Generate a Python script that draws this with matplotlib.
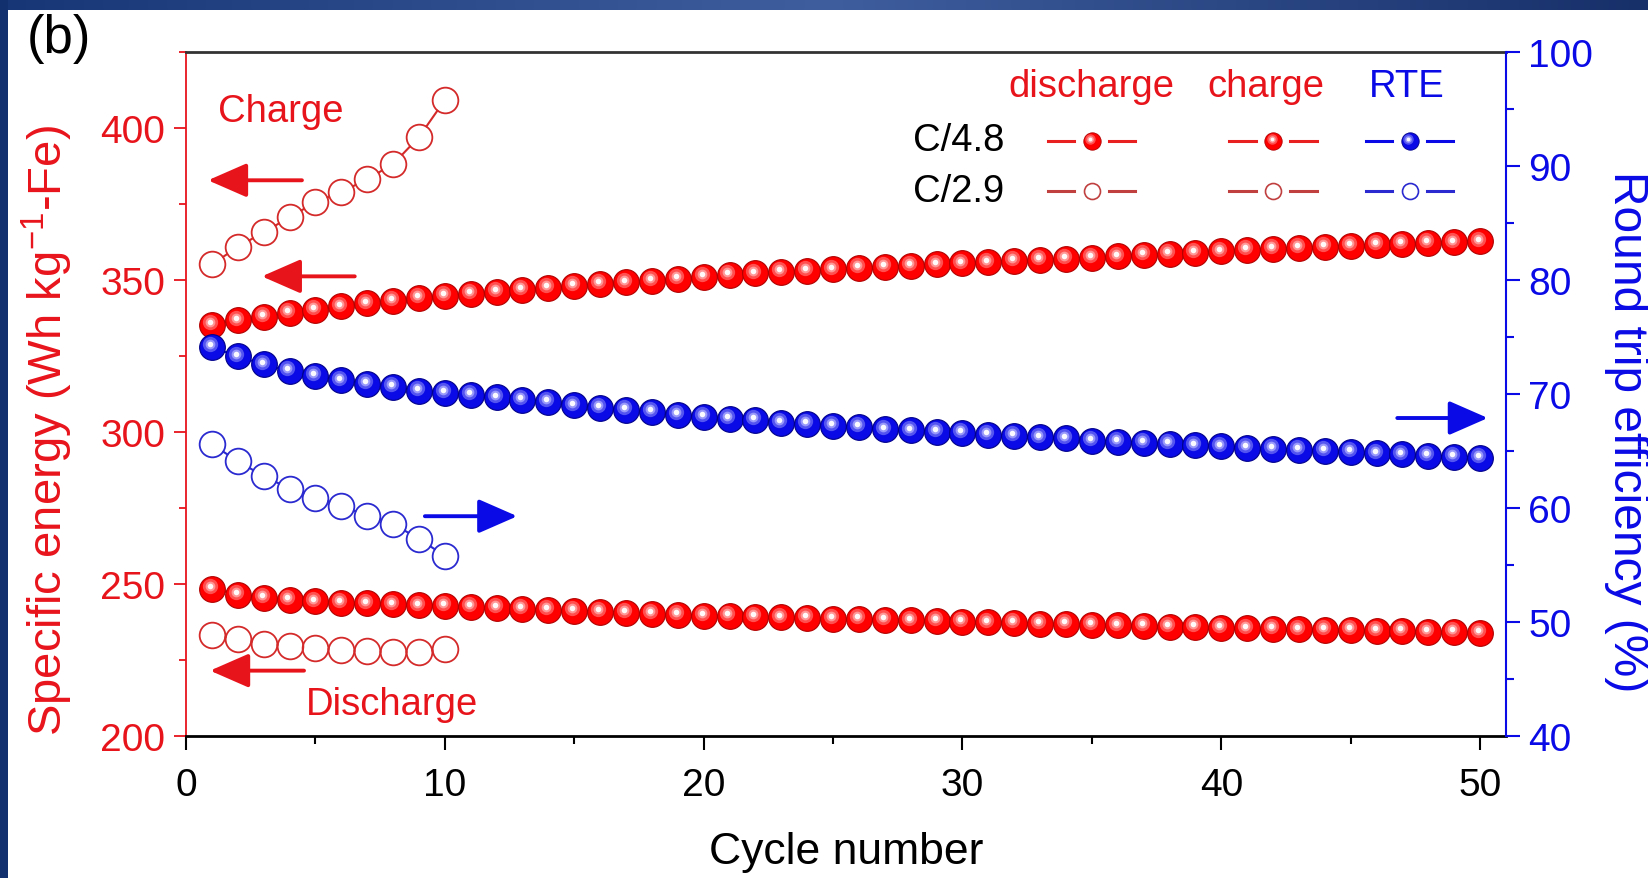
"""
Specific energy / round-trip efficiency vs cycle number, panel (b).
Left axis: charge & discharge specific energy; right axis: RTE.
"""

import numpy as np
import matplotlib
matplotlib.use('Agg')
import matplotlib.pyplot as plt
from matplotlib.transforms import ScaledTranslation
from matplotlib.colors import LinearSegmentedColormap
from matplotlib.ticker import MultipleLocator

plt.rcParams['font.family'] = ['Liberation Sans', 'DejaVu Sans']
plt.rcParams['mathtext.fontset'] = 'custom'
plt.rcParams['mathtext.rm'] = 'Liberation Sans'
plt.rcParams['mathtext.default'] = 'regular'

RED = '#e8141c'
RED_DARK = '#b00000'
RED_OPEN = '#d42a2a'
BLUE = '#0a0ae6'
BLUE_DARK = '#00008a'
BLUE_OPEN = '#2a2ad0'

# ---- data ----
cycles_slow = np.arange(1, 51)      # C/4.8
cycles_fast = np.arange(1, 11)      # C/2.9

charge_slow = [335.3, 336.7, 337.8, 339.1, 340.2, 341.3, 342.3, 343.2, 344.0, 344.8,
               345.4, 346.1, 346.8, 347.4, 348.0, 348.6, 349.2, 349.8, 350.4, 351.0,
               351.6, 352.2, 352.6, 353.1, 353.5, 353.9, 354.3, 354.7, 355.1, 355.5,
               355.8, 356.2, 356.6, 357.0, 357.4, 357.8, 358.2, 358.6, 359.0, 359.4,
               359.8, 360.2, 360.6, 360.9, 361.2, 361.5, 361.8, 362.1, 362.4, 362.7]
discharge_slow = [248.5, 246.5, 245.5, 244.7, 244.3, 243.9, 243.6, 243.3, 243.0, 242.7,
                  242.4, 242.1, 241.8, 241.5, 241.2, 240.9, 240.6, 240.2, 239.9, 239.6,
                  239.4, 239.2, 239.0, 238.8, 238.6, 238.4, 238.2, 238.0, 237.8, 237.6,
                  237.4, 237.2, 237.0, 236.8, 236.6, 236.4, 236.2, 236.0, 235.8, 235.6,
                  235.4, 235.2, 235.1, 234.9, 234.8, 234.6, 234.5, 234.3, 234.2, 234.0]
rte_slow = [74.1, 73.3, 72.6, 72.0, 71.6, 71.2, 70.9, 70.6, 70.3, 70.1,
            69.9, 69.7, 69.5, 69.3, 69.0, 68.8, 68.6, 68.4, 68.2, 68.0,
            67.8, 67.7, 67.5, 67.4, 67.2, 67.1, 66.9, 66.8, 66.7, 66.6,
            66.4, 66.3, 66.2, 66.1, 65.9, 65.8, 65.7, 65.6, 65.5, 65.4,
            65.3, 65.2, 65.1, 65.0, 64.9, 64.8, 64.7, 64.6, 64.5, 64.4]

charge_fast = [355.1, 360.9, 365.7, 370.6, 375.6, 378.9, 383.2, 388.1, 397.0, 409.2]
discharge_fast = [233.1, 232.0, 230.4, 229.6, 228.9, 228.2, 227.8, 227.6, 227.6, 228.5]
rte_fast = [65.6, 64.1, 62.8, 61.7, 60.9, 60.2, 59.3, 58.6, 57.3, 55.8]

fig = plt.figure(figsize=(16.48, 8.79), dpi=100, facecolor='white')

# dark slide frame (top band gradient + left strip)
band = fig.add_axes([0, 1 - 11 / 879, 1, 11 / 879])
cmap = LinearSegmentedColormap.from_list('band', ['#173676', '#3f5e9e', '#17306a'])
band.imshow(np.linspace(0, 1, 256)[None, :], aspect='auto', cmap=cmap)
band.axis('off')
strip = fig.add_axes([0, 0, 8 / 1648, 1])
strip.set_facecolor('#12306e')
strip.set_xticks([]); strip.set_yticks([])
for s in strip.spines.values():
    s.set_visible(False)

ax = fig.add_axes([186 / 1648, 1 - 737 / 879, 1320 / 1648, 684 / 879])
ax2 = ax.twinx()


def balls(a, x, y, color, edge, hl, ms=18.5, line=True):
    if line:
        a.plot(x, y, '-', color=color, lw=1.5, zorder=2)
    a.plot(x, y, 'o', ms=ms, mfc=color, mec=edge, mew=0.8, zorder=3)
    k = ms / 18.5
    off = a.transData + ScaledTranslation(-1.5 * k / 72, 2.0 * k / 72, fig.dpi_scale_trans)
    for s, c, al in [(11, hl, 0.45), (7, hl, 0.75), (4, 'white', 0.95)]:
        a.plot(x, y, 'o', ms=s * k, mfc=c, mec='none', alpha=al,
               transform=off, zorder=4)


def rings(a, x, y, color, ms=18.5):
    a.plot(x, y, '-', color=color, lw=1.5, zorder=2)
    a.plot(x, y, 'o', ms=ms - 1, mfc='white', mec='none', zorder=3)
    a.plot(x, y, 'o', ms=ms, mfc='none', mec=color, mew=1.3, zorder=4)


rings(ax, cycles_fast, charge_fast, RED_OPEN)
rings(ax, cycles_fast, discharge_fast, RED_OPEN)
balls(ax, cycles_slow, charge_slow, '#ff0000', RED_DARK, '#ffb0b0')
balls(ax, cycles_slow, discharge_slow, '#ff0000', RED_DARK, '#ffb0b0')
rings(ax2, cycles_fast, rte_fast, BLUE_OPEN)
balls(ax2, cycles_slow, rte_slow, BLUE, BLUE_DARK, '#b0b0ff')

# axes limits / ticks
ax.set_xlim(0, 51)
ax.set_ylim(200, 425)
ax2.set_ylim(40, 100)
ax.xaxis.set_major_locator(MultipleLocator(10))
ax.xaxis.set_minor_locator(MultipleLocator(5))
ax.yaxis.set_major_locator(MultipleLocator(50))
ax.yaxis.set_minor_locator(MultipleLocator(25))
ax2.yaxis.set_major_locator(MultipleLocator(10))
ax2.yaxis.set_minor_locator(MultipleLocator(5))

ax.tick_params(axis='x', which='major', direction='out', length=10, width=1.5,
               labelsize=28, pad=12, colors='black')
ax.tick_params(axis='x', which='minor', direction='out', length=6, width=1.5)
ax.tick_params(axis='y', which='major', direction='out', length=9, width=1.3,
               labelsize=28, pad=6, colors=RED)
ax.tick_params(axis='y', which='minor', direction='out', length=5, width=1.3, colors=RED)
ax2.tick_params(axis='y', which='major', direction='out', length=10, width=1.5,
                labelsize=28, pad=6, colors=BLUE)
ax2.tick_params(axis='y', which='minor', direction='out', length=6, width=1.5, colors=BLUE)

ax.spines['right'].set_visible(False)
ax.spines['left'].set_color(RED)
ax.spines['left'].set_linewidth(1.3)
ax.spines['top'].set_color('#333333')
ax.spines['top'].set_linewidth(2)
ax.spines['bottom'].set_color('black')
ax.spines['bottom'].set_linewidth(2)
for s in ('left', 'top', 'bottom'):
    ax2.spines[s].set_visible(False)
ax2.spines['right'].set_color(BLUE)
ax2.spines['right'].set_linewidth(1.5)

# axis labels
fig.text(846 / 1648, 1 - 853 / 879, 'Cycle number', fontsize=32,
         ha='center', va='center')
fig.text(47 / 1648, 1 - 431 / 879, 'Specific energy (Wh kg$^{-1}$-Fe)', fontsize=34,
         color=RED, rotation=90, ha='center', va='center')
fig.text(1627 / 1648, 1 - 432 / 879, 'Round trip efficiency (%)', fontsize=34.5,
         color=BLUE, rotation=-90, ha='center', va='center')
fig.text(59 / 1648, 1 - 39 / 879, '(b)', fontsize=38, ha='center', va='center')

# annotations
ax.text(3.67, 405.5, 'Charge', fontsize=27.5, color=RED, ha='center', va='center')
ax.text(7.95, 210.5, 'Discharge', fontsize=27.5, color=RED, ha='center', va='center')
arrow_style = '-|>,head_length=0.8,head_width=0.35'
for (x_tail, x_tip), y, col in [((4.48, 0.85), 382.8, RED),
                                ((6.52, 2.93), 351.2, RED),
                                ((4.56, 0.93), 221.5, RED),
                                ((9.23, 12.8), 272.3, BLUE),
                                ((46.8, 50.3), 304.6, BLUE)]:
    ax.annotate('', xy=(x_tip, y), xytext=(x_tail, y),
                arrowprops=dict(arrowstyle=arrow_style, color=col, lw=2.8,
                                mutation_scale=30, shrinkA=0, shrinkB=0))

# legend table
tr = ax.transAxes
ax.text(0.686, 0.950, 'discharge', transform=tr, fontsize=27.5, color=RED,
        ha='center', va='center')
ax.text(0.818, 0.950, 'charge', transform=tr, fontsize=27.5, color=RED,
        ha='center', va='center')
ax.text(0.925, 0.950, 'RTE', transform=tr, fontsize=27.5, color=BLUE,
        ha='center', va='center')
ax.text(0.620, 0.872, 'C/4.8', transform=tr, fontsize=27.5, ha='right', va='center')
ax.text(0.620, 0.797, 'C/2.9', transform=tr, fontsize=27.5, ha='right', va='center')

for xc, col, ocol, hl, edge in [(0.686, '#e82020', '#c04040', '#ffb0b0', RED_DARK),
                                (0.8235, '#e82020', '#c04040', '#ffb0b0', RED_DARK),
                                (0.927, BLUE, BLUE_OPEN, '#b0b0ff', BLUE_DARK)]:
    for yc, filled in [(0.870, True), (0.797, False)]:
        lc = col if filled else ocol
        for x0, x1 in [(xc - 0.033, xc - 0.013), (xc + 0.013, xc + 0.033)]:
            ax.plot([x0, x1], [yc, yc], '-', color=lc, lw=2.2, transform=tr, zorder=5)
        if filled:
            fc = '#ff0000' if col != BLUE else BLUE
            ax.plot([xc], [yc], 'o', ms=12.5, mfc=fc, mec=edge, mew=0.6,
                    transform=tr, zorder=5)
            off = tr + ScaledTranslation(-1.0 / 72, 1.4 / 72, fig.dpi_scale_trans)
            for s, c, al in [(7.5, hl, 0.45), (4.8, hl, 0.75), (2.7, 'white', 0.95)]:
                ax.plot([xc], [yc], 'o', ms=s, mfc=c, mec='none', alpha=al,
                        transform=off, zorder=6)
        else:
            ax.plot([xc], [yc], 'o', ms=11.5, mfc='white', mec=ocol, mew=1.2,
                    transform=tr, zorder=5)

fig.savefig('out.png', dpi=100, facecolor='white')
